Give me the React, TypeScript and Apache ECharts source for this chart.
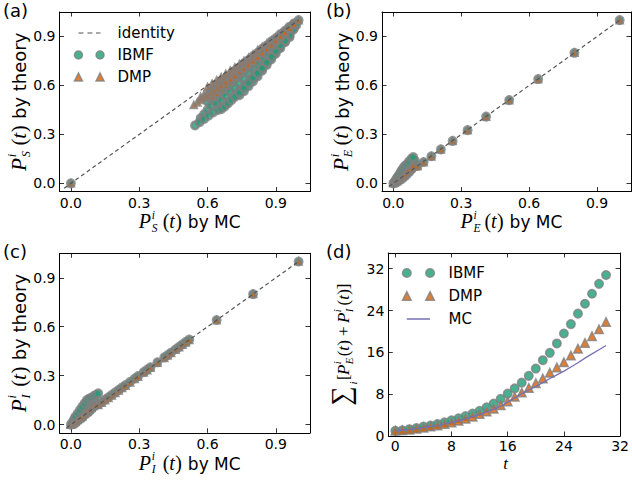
import React, { useEffect, useRef } from "react";
import * as echarts from "echarts";

const TEAL = "#1b9e77";
const ORANGE = "#d95f02";
const PURPLE = "#7570b3";
const EDGE = "#808080";
const DASH = "#555555";

// ---------- tick values ----------
const probTicks = [0, 0.3, 0.6, 0.9];
const sumTicks = [0, 8, 16, 24, 32];

// ---------- panel (a): P_S ----------
const aIdentity = [[-0.03, -0.03], [1.0, 1.0]];
const aIbmf = [
  [0, 0],
  [0.62, 0.58], [0.64, 0.6], [0.66, 0.62], [0.68, 0.645], [0.7, 0.665], [0.72, 0.69], [0.74, 0.71], [0.76, 0.735], [0.78, 0.755], [0.8, 0.78], [0.82, 0.8], [0.84, 0.825], [0.86, 0.845], [0.88, 0.87], [0.9, 0.89], [0.92, 0.915], [0.94, 0.935], [0.96, 0.96], [0.98, 0.98], [1.0, 1.0],
  [0.6, 0.5], [0.62, 0.525], [0.64, 0.55], [0.66, 0.575], [0.68, 0.6], [0.7, 0.625], [0.72, 0.65], [0.74, 0.675], [0.76, 0.7], [0.78, 0.725], [0.8, 0.75], [0.82, 0.775], [0.84, 0.8], [0.86, 0.825], [0.88, 0.85], [0.9, 0.875], [0.92, 0.9], [0.94, 0.925], [0.96, 0.95], [0.98, 0.975],
  [0.57, 0.4], [0.585, 0.425], [0.6, 0.45], [0.615, 0.475], [0.63, 0.5], [0.65, 0.53], [0.67, 0.56], [0.69, 0.59], [0.71, 0.62], [0.735, 0.655], [0.76, 0.69], [0.785, 0.72], [0.81, 0.75], [0.835, 0.78], [0.86, 0.81], [0.885, 0.845], [0.91, 0.875], [0.935, 0.905], [0.96, 0.935], [0.98, 0.965],
  [0.64, 0.49], [0.66, 0.51], [0.68, 0.535], [0.7, 0.56], [0.72, 0.585], [0.74, 0.61], [0.76, 0.64], [0.78, 0.67], [0.8, 0.7], [0.82, 0.725], [0.84, 0.755], [0.86, 0.785], [0.88, 0.815], [0.9, 0.845], [0.92, 0.87], [0.94, 0.9], [0.96, 0.93],
  [0.74, 0.54], [0.76, 0.565], [0.78, 0.595], [0.8, 0.625], [0.82, 0.655], [0.84, 0.69], [0.86, 0.725], [0.88, 0.76], [0.9, 0.795], [0.92, 0.83], [0.94, 0.865], [0.96, 0.895],
  [0.545, 0.355], [0.565, 0.375], [0.585, 0.395], [0.605, 0.415], [0.625, 0.435], [0.645, 0.45], [0.665, 0.47], [0.69, 0.5], [0.715, 0.535], [0.74, 0.57], [0.765, 0.605], [0.79, 0.64], [0.815, 0.675], [0.84, 0.71], [0.865, 0.75], [0.89, 0.79], [0.915, 0.83], [0.94, 0.87], [0.96, 0.905], [0.98, 0.95],
  [0.66, 0.455], [0.675, 0.47], [0.69, 0.49], [0.705, 0.51], [0.72, 0.53], [0.74, 0.555], [0.76, 0.585], [0.78, 0.615], [0.8, 0.645], [0.82, 0.675], [0.84, 0.705], [0.86, 0.74], [0.88, 0.775], [0.9, 0.81], [0.92, 0.845], [0.94, 0.875], [0.96, 0.91], [0.975, 0.94], [0.99, 0.97],
];
const aDmp = [
  [0, 0],
  [0.6, 0.59], [0.62, 0.61], [0.64, 0.63], [0.66, 0.65], [0.68, 0.67], [0.7, 0.69], [0.72, 0.71], [0.74, 0.73], [0.76, 0.75], [0.78, 0.77], [0.8, 0.79], [0.82, 0.815], [0.84, 0.835], [0.86, 0.855], [0.88, 0.875], [0.9, 0.895], [0.92, 0.915], [0.94, 0.94], [0.96, 0.96],
  [0.62, 0.53], [0.64, 0.55], [0.66, 0.575], [0.68, 0.6], [0.7, 0.625], [0.72, 0.65], [0.74, 0.675], [0.76, 0.7], [0.78, 0.725], [0.8, 0.745], [0.82, 0.77], [0.84, 0.795], [0.86, 0.82], [0.88, 0.845], [0.9, 0.87], [0.92, 0.895], [0.94, 0.92], [0.96, 0.945],
  [0.57, 0.53], [0.585, 0.545], [0.6, 0.56], [0.62, 0.58], [0.64, 0.6], [0.66, 0.62], [0.68, 0.64], [0.7, 0.66], [0.72, 0.685], [0.74, 0.705], [0.76, 0.73], [0.78, 0.75], [0.8, 0.775], [0.82, 0.795], [0.84, 0.82], [0.86, 0.84], [0.88, 0.865], [0.9, 0.885], [0.92, 0.91], [0.94, 0.93], [0.96, 0.955], [0.98, 0.975],
  [0.54, 0.48], [0.555, 0.495], [0.57, 0.51], [0.585, 0.525], [0.6, 0.54], [0.615, 0.555], [0.63, 0.57], [0.645, 0.585], [0.66, 0.6], [0.68, 0.62], [0.7, 0.64], [0.72, 0.66], [0.74, 0.685], [0.76, 0.705], [0.78, 0.73], [0.8, 0.75], [0.82, 0.775], [0.84, 0.8], [0.86, 0.825], [0.88, 0.85], [0.9, 0.875], [0.92, 0.9], [0.94, 0.925], [0.96, 0.95], [0.98, 0.975], [1.0, 1.0],
];

// ---------- panel (b): P_E ----------
const bIdentity = [[-0.02, -0.02], [1.0, 1.0]];
const bIbmf = [
  [0.005, 0.003], [0.01, 0.008], [0.02, 0.016], [0.03, 0.024], [0.04, 0.035], [0.05, 0.045], [0.06, 0.058], [0.07, 0.07], [0.08, 0.085], [0.09, 0.1],
  [0.015, 0.015], [0.025, 0.03], [0.035, 0.045], [0.045, 0.06], [0.055, 0.075], [0.065, 0.09], [0.075, 0.105], [0.085, 0.125], [0.095, 0.14],
  [0, 0], [0.005, 0.008], [0.01, 0.018], [0.015, 0.03], [0.02, 0.04], [0.025, 0.05], [0.03, 0.06], [0.035, 0.075], [0.04, 0.085], [0.045, 0.095], [0.05, 0.105], [0.055, 0.11], [0.062, 0.12], [0.07, 0.135], [0.08, 0.15], [0.088, 0.161],
  [0.107, 0.106], [0.134, 0.131], [0.168, 0.166], [0.21, 0.208], [0.262, 0.26], [0.328, 0.326], [0.41, 0.409], [0.512, 0.51], [0.64, 0.639], [0.8, 0.8], [1.0, 1.0],
];
const bDmp = [
  [0, 0], [0.005, 0.004], [0.01, 0.008], [0.015, 0.012], [0.02, 0.017], [0.025, 0.022], [0.03, 0.027], [0.035, 0.032], [0.04, 0.038], [0.045, 0.045], [0.05, 0.05], [0.055, 0.058], [0.064, 0.075], [0.075, 0.09], [0.088, 0.11],
  [0.107, 0.105], [0.134, 0.13], [0.168, 0.165], [0.21, 0.207], [0.262, 0.259], [0.328, 0.325], [0.41, 0.408], [0.512, 0.509], [0.64, 0.638], [0.8, 0.8], [1.0, 1.0],
];

// ---------- panel (c): P_I ----------
const cIdentity = [[-0.02, -0.02], [1.0, 1.0]];
const cIbmf = [
  [0.01, 0.005], [0.02, 0.01], [0.03, 0.025], [0.04, 0.035], [0.05, 0.045], [0.06, 0.06], [0.07, 0.07], [0.08, 0.08], [0.09, 0.095], [0.1, 0.11],
  [0.02, 0.02], [0.03, 0.04], [0.04, 0.06], [0.05, 0.07], [0.06, 0.09], [0.07, 0.11], [0.08, 0.13], [0.09, 0.145], [0.1, 0.155],
  [0, 0], [0.005, 0.01], [0.01, 0.02], [0.015, 0.035], [0.02, 0.05], [0.03, 0.07], [0.04, 0.09], [0.05, 0.11], [0.06, 0.13], [0.07, 0.15], [0.08, 0.16], [0.09, 0.165], [0.1, 0.175], [0.11, 0.182], [0.12, 0.192],
  [0.12, 0.125], [0.135, 0.138], [0.15, 0.153], [0.165, 0.168], [0.18, 0.183], [0.195, 0.198], [0.21, 0.213], [0.225, 0.228], [0.24, 0.243], [0.26, 0.263], [0.28, 0.283], [0.295, 0.298], [0.32, 0.322], [0.335, 0.337], [0.35, 0.352], [0.38, 0.382], [0.41, 0.412], [0.425, 0.427], [0.44, 0.442], [0.46, 0.462], [0.475, 0.477], [0.49, 0.492], [0.505, 0.507], [0.52, 0.522], [0.64, 0.641], [0.8, 0.8], [1.0, 1.0],
];
const cDmp = [
  [0, 0], [0.005, 0.003], [0.01, 0.008], [0.02, 0.018], [0.03, 0.028], [0.04, 0.04], [0.05, 0.05], [0.06, 0.065], [0.07, 0.08], [0.08, 0.092], [0.09, 0.105], [0.1, 0.115], [0.11, 0.122],
  [0.12, 0.12], [0.135, 0.134], [0.15, 0.149], [0.165, 0.164], [0.18, 0.179], [0.195, 0.194], [0.21, 0.209], [0.225, 0.224], [0.24, 0.239], [0.26, 0.259], [0.28, 0.279], [0.295, 0.294], [0.32, 0.319], [0.335, 0.334], [0.35, 0.349], [0.38, 0.379], [0.41, 0.409], [0.425, 0.424], [0.44, 0.439], [0.46, 0.459], [0.475, 0.474], [0.49, 0.489], [0.505, 0.504], [0.52, 0.519], [0.64, 0.639], [0.8, 0.8], [1.0, 1.0],
];

// ---------- panel (d): sums over time ----------
const tSteps = [0, 1, 2, 3, 4, 5, 6, 7, 8, 9, 10, 11, 12, 13, 14, 15, 16, 17, 18, 19, 20, 21, 22, 23, 24, 25, 26, 27, 28, 29, 30];
const ibmfSum = [1.0, 1.1, 1.3, 1.5, 1.8, 2.0, 2.3, 2.6, 3.0, 3.4, 3.8, 4.3, 4.8, 5.5, 6.2, 7.1, 8.1, 9.1, 10.2, 11.5, 12.9, 14.5, 15.9, 17.7, 19.6, 21.4, 23.4, 25.3, 27.2, 29.1, 30.8];
const dmpSum = [1.0, 1.1, 1.2, 1.4, 1.6, 1.8, 2.0, 2.3, 2.6, 2.9, 3.3, 3.7, 4.2, 4.7, 5.2, 5.9, 6.6, 7.5, 8.3, 9.2, 10.1, 11.0, 12.1, 13.1, 14.1, 15.4, 16.7, 17.8, 19.1, 20.4, 21.8];
const mcSum = [1.0, 1.1, 1.2, 1.4, 1.6, 1.8, 2.0, 2.3, 2.6, 2.9, 3.3, 3.7, 4.1, 4.6, 5.1, 5.7, 6.5, 7.3, 8.1, 8.8, 9.5, 10.2, 11.0, 11.7, 12.4, 13.2, 14.0, 14.9, 15.7, 16.5, 17.3];

// ---------- legend icons (all share a 38.6 x 9 box; the right part is the gap before the text) ----------
const BOX = " M0,0 M38.6,9";
const CIRC_ICON = "path://M0.5,4.5a4,4 0 1,0 8,0a4,4 0 1,0 -8,0z M22.1,4.5a4,4 0 1,0 8,0a4,4 0 1,0 -8,0z" + BOX;
const TRI_ICON = "path://M4.5,0.5L8.5,8.5L0.5,8.5z M26.1,0.5L30.1,8.5L22.1,8.5z" + BOX;
const SPECKS = "M0,0h0.01v0.01h-0.01z M38.59,8.99h0.01v0.01h-0.01z ";
const DASH_ICON = "path://" + SPECKS + "M4.5,3.9h5v1.2h-5z M13.5,3.9h5v1.2h-5z M22,3.9h4.6v1.2h-4.6z";
const LINE_ICON = "path://" + SPECKS + "M4.5,3.85h21.6v1.3h-21.6z";

const SANS = "DejaVu Sans";
const SERIF = "Liberation Serif, DejaVu Serif";

type Part = { t: string; x: number; dy?: number; s: number; f?: "serif" | "sans"; it?: boolean; lh?: number; cyo?: number };

function mathGroup(parts: Part[], ox: number, oy: number, rot: number, k: number) {
  return {
    type: "group",
    x: ox,
    y: oy,
    rotation: rot,
    silent: true,
    children: parts.map((p) => {
      const style: any = {
        text: p.t,
        fontSize: p.s * k,
        fontFamily: p.f === "sans" ? SANS : SERIF,
        fontStyle: p.it ? "italic" : "normal",
        fill: "#000",
        align: "left",
        verticalAlign: "middle",
        textAlign: "left",
        textVerticalAlign: "middle",
      };
      if (p.lh) style.lineHeight = p.lh * k;
      return {
        type: "text",
        x: p.x * k,
        y: p.lh ? (p.cyo || 0) * k : (p.dy || 0) * k - 0.34 * p.s * k,
        style,
      };
    }),
  };
}

// superscript i stacked over a subscript letter, in one two-line text
function probTitle(sub: string, tail: string): Part[] {
  return [
    { t: "P", x: 0, s: 20, it: true },
    { t: "i\n" + sub, x: 13, s: 11.5, it: true, lh: 13, cyo: -6.7 },
    { t: "(", x: 24, s: 20 },
    { t: "t", x: 30.5, s: 20, it: true },
    { t: ")", x: 36.5, s: 20 },
    { t: tail, x: 49, s: 17, f: "sans" },
  ];
}
const X_TITLE_W = 49 + 3.106 * 17;
const Y_TITLE_W = 49 + 4.801 * 17;
const YK = 1.06;
const X_SHIFT = 5;

const sumTitle: Part[] = [
  { t: "∑", x: 0, dy: 1, s: 24 },
  { t: "i", x: 18.5, dy: 7, s: 10, it: true },
  { t: "[", x: 22.5, s: 15 },
  { t: "P", x: 27, s: 15, it: true },
  { t: "i\nE", x: 36.5, s: 9.5, it: true, lh: 11.3, cyo: -5.2 },
  { t: "(", x: 43.5, s: 15 },
  { t: "t", x: 48.5, s: 15, it: true },
  { t: ")", x: 53, s: 15 },
  { t: "+", x: 61.5, s: 15 },
  { t: "P", x: 73, s: 15, it: true },
  { t: "i\nI", x: 82.5, s: 9.5, it: true, lh: 11.3, cyo: -5.2 },
  { t: "(", x: 88.5, s: 15 },
  { t: "t", x: 93.5, s: 15, it: true },
  { t: ")", x: 98, s: 15 },
  { t: "]", x: 103, s: 15 },
];
const SUM_W = 108;
const SK = 1.13;

const grids = [
  { left: 59.5, top: 12, width: 250.5, height: 179.5 },
  { left: 382, top: 12, width: 249, height: 179.5 },
  { left: 59.5, top: 253.3, width: 250.5, height: 179.5 },
  { left: 388.3, top: 253, width: 234.4, height: 183 },
];

function axisPair(g: number, min: number, max: number, ticks: number[], fmt: (v: number) => string, isX: boolean, margin: number) {
  const base = {
    type: "value",
    gridIndex: g,
    min,
    max,
    splitLine: { show: false },
    axisLine: { show: true, onZero: false, lineStyle: { color: "#000", width: 1 } },
    axisTick: { show: true, inside: true, length: 4.5, customValues: ticks, lineStyle: { color: "#000", width: 0.8 } },
  };
  const main = {
    ...base,
    position: isX ? "bottom" : "left",
    axisLabel: {
      show: true,
      customValues: ticks,
      formatter: fmt,
      margin,
      fontSize: 14,
      fontFamily: SANS,
      color: "#000",
    },
  };
  const mirror = {
    ...base,
    position: isX ? "top" : "right",
    axisLabel: { show: false },
  };
  return [main, mirror];
}

const fmtProb = (v: number) => v.toFixed(1);
const fmtInt = (v: number) => String(Math.round(v));

const scatterStyle = (color: string, bw: number) => ({ color, borderColor: EDGE, borderWidth: bw });

function buildOption() {
  const xAxis: any[] = [];
  const yAxis: any[] = [];
  for (let g = 0; g < 3; g++) {
    xAxis.push(...axisPair(g, -0.05, 1.05, probTicks, fmtProb, true, 4));
    yAxis.push(...axisPair(g, -0.05, 1.05, probTicks, fmtProb, false, 4));
  }
  xAxis.push(...axisPair(3, -1, 32, sumTicks, fmtInt, true, 3));
  yAxis.push(...axisPair(3, 0, 35, sumTicks, fmtInt, false, 4));

  const probPanels = [
    { id: aIdentity, ib: aIbmf, dm: aDmp },
    { id: bIdentity, ib: bIbmf, dm: bDmp },
    { id: cIdentity, ib: cIbmf, dm: cDmp },
  ];
  const series: any[] = [];
  probPanels.forEach((p, g) => {
    series.push({
      type: "line",
      name: "identity",
      xAxisIndex: 2 * g,
      yAxisIndex: 2 * g,
      data: p.id,
      symbol: "none",
      silent: true,
      lineStyle: { color: DASH, width: 1.2, type: [4, 3] },
      itemStyle: { color: DASH },
    });
    series.push({
      type: "scatter",
      name: "IBMF",
      xAxisIndex: 2 * g,
      yAxisIndex: 2 * g,
      data: p.ib,
      symbol: "circle",
      symbolSize: 7.5,
      silent: true,
      itemStyle: scatterStyle(TEAL, 2.5),
    });
    series.push({
      type: "scatter",
      name: "DMP",
      xAxisIndex: 2 * g,
      yAxisIndex: 2 * g,
      data: p.dm,
      symbol: "triangle",
      symbolSize: 6.5,
      silent: true,
      itemStyle: scatterStyle(ORANGE, 2),
    });
  });
  series.push({
    type: "scatter",
    name: "IBMF",
    xAxisIndex: 6,
    yAxisIndex: 6,
    data: tSteps.map((t, i) => [t, ibmfSum[i]]),
    symbol: "circle",
    symbolSize: 8.5,
    silent: true,
    itemStyle: scatterStyle(TEAL, 1.5),
  });
  series.push({
    type: "scatter",
    name: "DMP",
    xAxisIndex: 6,
    yAxisIndex: 6,
    data: tSteps.map((t, i) => [t, dmpSum[i]]),
    symbol: "triangle",
    symbolSize: 8.5,
    silent: true,
    itemStyle: scatterStyle(ORANGE, 1.5),
  });
  series.push({
    type: "line",
    name: "MC",
    xAxisIndex: 6,
    yAxisIndex: 6,
    data: tSteps.map((t, i) => [t, mcSum[i]]),
    symbol: "none",
    silent: true,
    lineStyle: { color: PURPLE, width: 1.3 },
    itemStyle: { color: PURPLE },
  });

  const legendText = { fontFamily: SANS, fontSize: 15, color: "#000", lineHeight: 15 };
  const ibmfItem = { name: "IBMF", icon: CIRC_ICON, itemStyle: { color: TEAL, borderColor: EDGE, borderWidth: 1.5 } };
  const dmpItem = { name: "DMP", icon: TRI_ICON, itemStyle: { color: ORANGE, borderColor: EDGE, borderWidth: 1.5 } };

  const legend = [
    {
      orient: "vertical",
      left: 73.2,
      top: 25.5,
      padding: 0,
      itemWidth: 38.6,
      itemHeight: 9,
      itemGap: 7,
      selectedMode: false,
      textStyle: legendText,
      data: [
        { name: "identity", icon: DASH_ICON, itemStyle: { color: DASH, borderWidth: 0 } },
        ibmfItem,
        dmpItem,
      ],
    },
    {
      orient: "vertical",
      left: 401.2,
      top: 265.5,
      padding: 0,
      itemWidth: 41.6,
      itemHeight: 9.7,
      itemGap: 8,
      selectedMode: false,
      textStyle: legendText,
      data: [ibmfItem, dmpItem, { name: "MC", icon: LINE_ICON, itemStyle: { color: PURPLE, borderWidth: 0 } }],
    },
  ];

  const panelLabel = (t: string, x: number, y: number) => ({
    type: "text",
    x,
    y,
    silent: true,
    style: { text: t, fontSize: 18, fontFamily: SANS, fill: "#000", align: "left", verticalAlign: "middle", textAlign: "left", textVerticalAlign: "middle" },
  });

  const cx = (g: number) => grids[g].left + grids[g].width / 2;
  const cy = (g: number) => grids[g].top + grids[g].height / 2;
  const bottom = (g: number) => grids[g].top + grids[g].height;

  const elements: any[] = [
    panelLabel("(a)", 3, 10),
    panelLabel("(b)", 326, 10),
    panelLabel("(c)", 3, 251.5),
    panelLabel("(d)", 326, 251.5),
    mathGroup(probTitle("S", "by MC"), cx(0) - X_TITLE_W / 2 + X_SHIFT, bottom(0) + 36.5, 0, 1),
    mathGroup(probTitle("S", "by theory"), grids[0].left - 33.5, cy(0) + (Y_TITLE_W * YK) / 2, Math.PI / 2, YK),
    mathGroup(probTitle("E", "by MC"), cx(1) - X_TITLE_W / 2 + X_SHIFT, bottom(1) + 36.5, 0, 1),
    mathGroup(probTitle("E", "by theory"), grids[1].left - 33.5, cy(1) + (Y_TITLE_W * YK) / 2, Math.PI / 2, YK),
    mathGroup(probTitle("I", "by MC"), cx(2) - X_TITLE_W / 2 + X_SHIFT, bottom(2) + 36.5, 0, 1),
    mathGroup(probTitle("I", "by theory"), grids[2].left - 33.5, cy(2) + (Y_TITLE_W * YK) / 2, Math.PI / 2, YK),
    mathGroup(sumTitle, 349, cy(3) + (SUM_W * SK) / 2, Math.PI / 2, SK),
    {
      type: "text",
      x: cx(3),
      y: 463.5,
      silent: true,
      style: { text: "t", fontSize: 17, fontFamily: SERIF, fontStyle: "italic", fill: "#000", align: "center", verticalAlign: "middle", textAlign: "center", textVerticalAlign: "middle" },
    },
  ];

  return {
    animation: false,
    backgroundColor: "#fff",
    grid: grids.map((g) => ({ ...g, containLabel: false })),
    xAxis,
    yAxis,
    legend,
    series,
    graphic: { elements },
  };
}

export default function App() {
  const ref = useRef<HTMLDivElement>(null);
  useEffect(() => {
    if (!ref.current) return;
    const chart = echarts.init(ref.current, null, { renderer: "svg" });
    chart.setOption(buildOption() as any);
    return () => chart.dispose();
  }, []);
  return <div ref={ref} style={{ position: "fixed", left: 0, top: 0, width: 632, height: 483, background: "#fff" }} />;
}
